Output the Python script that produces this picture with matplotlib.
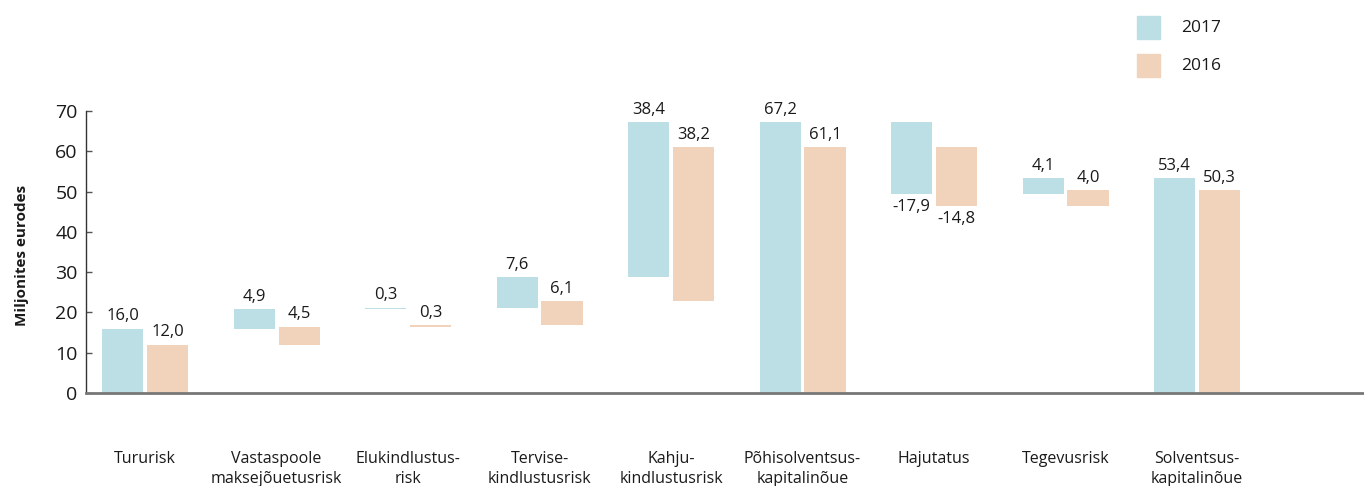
import matplotlib
matplotlib.use("Agg")
import matplotlib.pyplot as plt
from matplotlib.patches import Rectangle
from matplotlib.transforms import offset_copy
import numpy as np

plt.rcParams['font.family'] = ['Open Sans', 'DejaVu Sans']

categories = ["Tururisk", "Vastaspoole\nmaksejõuetusrisk", "Elukindlustus-\nrisk",
              "Tervise-\nkindlustusrisk", "Kahju-\nkindlustusrisk", "Põhisolventsus-\nkapitalinõue",
              "Hajutatus", "Tegevusrisk", "Solventsus-\nkapitalinõue"]
values_2017 = [16.0, 4.9, 0.3, 7.6, 38.4, 67.2, -17.9, 4.1, 53.4]
values_2016 = [12.0, 4.5, 0.3, 6.1, 38.2, 61.1, -14.8, 4.0, 50.3]
is_total = [False, False, False, False, False, True, False, False, True]
series_labels = ["2017", "2016"]
yticks = [0, 10, 20, 30, 40, 50, 60, 70]

col_2017 = "#BCDFE6"
col_2016 = "#F1D3BB"
text_col = "#1a1a1a"

fig = plt.figure(figsize=(13.64, 4.86), dpi=100)
ax = fig.add_axes([86/1364, 93/486, 1 - 86/1364, (393-111)/486])

def waterfall(vals):
    bottoms, heights = [], []
    run = 0.0
    for v, tot in zip(vals, is_total):
        if tot:
            bottoms.append(0.0); heights.append(v); run = v
        else:
            bottoms.append(run); heights.append(v); run += v
    return np.array(bottoms), np.array(heights)

x = np.arange(len(categories))
w = 0.312
gap = 0.03
for vals, col, off in [(values_2017, col_2017, -(w+gap)/2), (values_2016, col_2016, (w+gap)/2)]:
    b, h = waterfall(vals)
    ax.bar(x + off, h, w, bottom=b, color=col, clip_on=False, zorder=2)
    for xi, bi, hi, v in zip(x + off, b, h, vals):
        lab = f"{v:.1f}".replace(".", ",")
        if v >= 0:
            ax.annotate(lab, (xi, bi + hi), xytext=(0, 3), textcoords="offset points",
                        ha="center", va="bottom", fontsize=12, color=text_col)
        else:
            ax.annotate(lab, (xi, bi + hi), xytext=(0, -3), textcoords="offset points",
                        ha="center", va="top", fontsize=12, color=text_col)

ax.set_xlim(-0.449, 9.27)
ax.set_ylim(0, 70)
ax.set_yticks(yticks)
ax.set_yticklabels([str(t) for t in yticks], fontsize=14, color=text_col)
for lbl in ax.get_yticklabels():
    lbl.set_transform(offset_copy(lbl.get_transform(), fig=fig, x=-2, y=8, units='dots'))
ax.tick_params(axis='y', direction='in', length=4, width=1, color="#555555", pad=6)
ax.set_xticks(x)
ax.set_xticklabels(categories, fontsize=11.5, color=text_col, va="top", linespacing=1.3)
ax.tick_params(axis='x', length=0, pad=42)

for s in ["top", "right"]:
    ax.spines[s].set_visible(False)
ax.spines["left"].set_color("#333333")
ax.spines["left"].set_linewidth(1)
ax.spines["bottom"].set_color("#777777")
ax.spines["bottom"].set_linewidth(2)

fig.text(22/1364, 1 - 255/486, "Miljonites eurodes", rotation=90, ha="center", va="center",
         fontsize=11, fontweight="bold", color=text_col)

# legend
for i, (lab, col) in enumerate(zip(series_labels, [col_2017, col_2016])):
    ytop = 16 + i * 38
    fig.add_artist(Rectangle((1137/1364, 1 - (ytop + 23)/486), 23/1364, 23/486,
                             transform=fig.transFigure, color=col))
    fig.text(1181/1364, 1 - (ytop + 12)/486, lab, ha="left", va="center", fontsize=12.5, color=text_col)

fig.savefig("out.png", dpi=100)
